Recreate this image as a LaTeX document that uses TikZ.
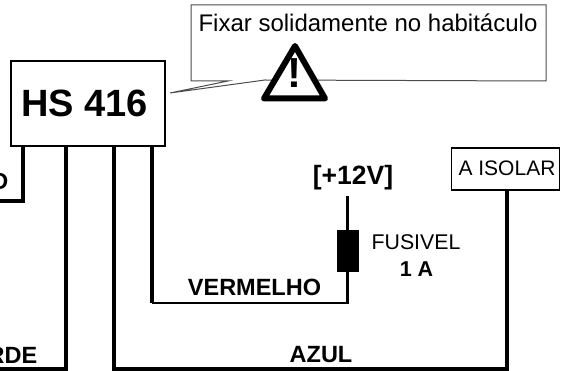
\documentclass[tikz,border=0pt]{standalone}
\usepackage{fontspec}
\setmainfont{Liberation Sans}
\tikzset{
  wire/.style={line width=3.7pt, line join=miter},
  thinwire/.style={line width=2.8pt, line join=miter},
  box/.style={draw, line width=1.7pt, fill=white, inner sep=0pt},
  wirelabel/.style={font=\bfseries\fontsize{23.5}{26}\selectfont, inner sep=0pt}
}
\begin{document}
\begin{tikzpicture}[x=1pt, y=-1pt]
    \useasboundingbox (0,0) rectangle (573,371);
    % callout with warning sign
    \draw[draw=black!70, line width=1pt, fill=white] (191,5) -- (546,5) -- (546,81) -- (265,80) -- (170,93) -- (228,81) -- (191,81) -- cycle;
    \node(note) at (368,23) [font=\fontsize{24}{28}\selectfont, inner sep=0pt] {Fixar solidamente no habitáculo};
    \coordinate(t1) at (295,46);
    \coordinate(t2) at (264,98.5);
    \coordinate(t3) at (325,98.5);
    \draw[line width=6pt, line join=round, fill=white] (t1) -- (t2) -- (t3) -- cycle;
    \node(warn) at (294.5,73.5) [font=\bfseries\fontsize{42}{44}\selectfont, inner sep=0pt] {!};
    % module
    \node(hs)[box, minimum width=154pt, minimum height=85pt] at (88,103.5) {};
    \node(hstext) at (84.5,103) [font=\bfseries\fontsize{38}{42}\selectfont, inner sep=0pt] {HS 416};
    % wires
    \coordinate(c1) at (23,146);
    \coordinate(c2) at (66,146);
    \coordinate(c3) at (113.7,146);
    \coordinate(c4) at (152,146);
    \coordinate(e1) at (0,201);
    \coordinate(e2) at (0,369);
    \coordinate(b1) at (507,369);
    \coordinate(b2) at (152,303);
    \coordinate(top) at (347.5,196);
    \node(iso)[box, line width=1.2pt, minimum width=108pt, minimum height=42pt] at (505.3,169) {};
    \node(isotext) at (507,168) [font=\fontsize{21}{24}\selectfont, inner sep=0pt] {A ISOLAR};
    \node(fuse)[fill=black, minimum width=22pt, minimum height=42pt, inner sep=0pt] at (348,251) {};
    \node(plus) at (353,178) [font=\bfseries\fontsize{26.5}{30}\selectfont, inner sep=0pt] {[+12V]};
    \draw[wire] (c1) |- (e1);
    \draw[wire] (c2) |- (e2);
    \draw[wire] (c3) |- (b1) -- (iso.south -| b1);
    \draw[wire] (c4) -- (b2);
    \draw[thinwire] (b2) -| (fuse.south -| top);
    \draw[thinwire] (fuse.north -| top) -- (top);
    % labels
    \node(ld) at (8.5,181) [wirelabel, anchor=east] {D};
    \node(lg) at (37.5,355) [wirelabel, anchor=east] {RDE};
    \node(lr) at (254.5,287) [wirelabel] {VERMELHO};
    \node(lb) at (321,355) [wirelabel] {AZUL};
    \node(f1) at (416,242) [font=\fontsize{21.3}{24}\selectfont, inner sep=0pt] {FUSIVEL};
    \node(f2) at (416.5,269) [font=\bfseries\fontsize{21.5}{24}\selectfont, inner sep=0pt] {1 A};
\end{tikzpicture}
\end{document}
